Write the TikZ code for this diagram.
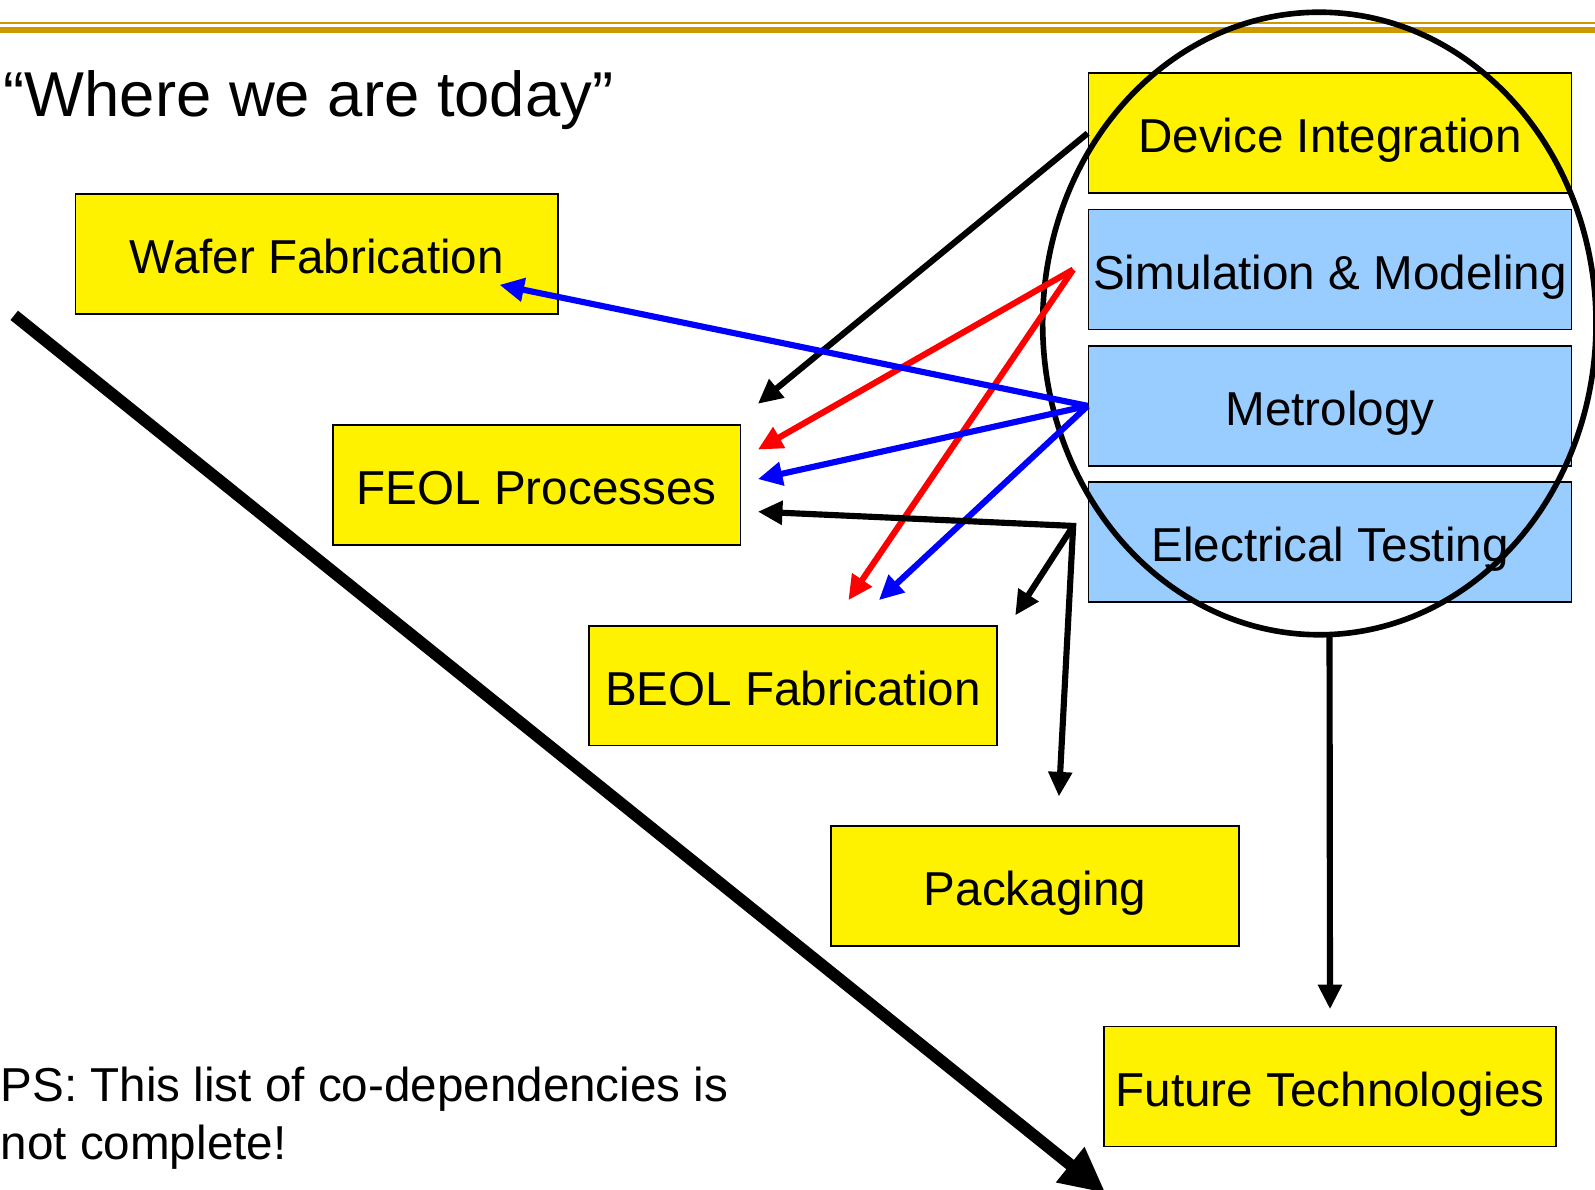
\documentclass[tikz,border=0pt]{standalone}
\usepackage{fontspec}
\setmainfont{Liberation Sans}
\usetikzlibrary{arrows.meta}
\definecolor{gold}{HTML}{CC9900}
\definecolor{lblue}{HTML}{99CCFF}

\begin{document}
\begin{tikzpicture}[x=0.010172cm, y=-0.010172cm,
    box/.style={draw, line width=0.5pt, minimum height=1.2cm, inner sep=0pt,
        text height=11.2pt, text depth=0pt, font=\fontsize{13.55}{16}\selectfont},
    ybox/.style={box, fill=yellow},
    bbox/.style={box, fill=lblue},
    link/.style={line width=1.75pt, -{Triangle[length=7pt, width=6.5pt]}}]
    \useasboundingbox (0,0) rectangle (1568,1169);
    \draw[gold, line width=0.6pt] (0,22.5) -- (1568,22.5);
    \draw[gold, line width=1.8pt] (0,29.5) -- (1568,29.5);
    \node[anchor=base west, inner sep=0pt, font=\fontsize{18.05}{22}\selectfont] (title) at (3,115) {“Where we are today”};

    \node[ybox, minimum width=4.832cm] (wafer) at (311.5,250) {Wafer Fabrication};
    \node[ybox, minimum width=4.079cm] (feol) at (527.5,477) {FEOL Processes};
    \node[ybox, minimum width=4.079cm] (beol) at (779.5,674) {BEOL Fabrication};
    \node[ybox, minimum width=4.079cm] (pack) at (1017.5,871) {Packaging};
    \node[ybox, minimum width=4.527cm] (future) at (1307.5,1068) {Future Technologies};

    \node[ybox, minimum width=4.832cm] (devint) at (1307.5,131) {Device Integration};
    \node[bbox, minimum width=4.832cm] (sim) at (1307.5,265) {Simulation \& Modeling};
    \node[bbox, minimum width=4.832cm] (metro) at (1307.5,399) {Metrology};
    \node[bbox, minimum width=4.832cm] (elec) at (1307.5,533) {Electrical Testing};

    \draw[line width=1.6pt] (1297,318) ellipse [x radius=272, y radius=306];

    \coordinate (simL) at (1055,265);
    \coordinate (junc) at (1055,517);
    \coordinate (ringS) at (1307,623);
    \coordinate (waferA) at (491,280);
    \coordinate (feolA) at (745,397);
    \coordinate (feolB) at (745,442);
    \coordinate (feolC) at (745,471);
    \coordinate (feolD) at (745,503);
    \coordinate (beolA) at (834,590);
    \coordinate (beolB) at (864,590);
    \coordinate (beolC) at (998,605);
    \coordinate (packA) at (1041,783);

    \draw[link] (devint.west) -- (feolA);
    \draw[link, red] (simL) -- (feolB);
    \draw[link, red] (simL) -- (beolA);
    \draw[link, blue] (metro.west) -- (waferA);
    \draw[link, blue] (metro.west) -- (feolC);
    \draw[link, blue] (metro.west) -- (beolB);
    \draw[link, {Triangle[length=7pt, width=6.5pt]}-{Triangle[length=7pt, width=6.5pt]}] (feolD) -- (junc) -- (packA);
    \draw[link] (junc) -- (beolC);
    \draw[link, shorten >=0.163cm] (ringS) -- (future.north);

    \coordinate (bigS) at (14,310);
    \coordinate (bigE) at (1087,1173);
    \draw[line width=3.4pt, -{Triangle[length=13pt, width=12pt]}] (bigS) -- (bigE);

    \node[anchor=base west, align=left, inner sep=0pt, font=\fontsize{13.55}{16.5}\selectfont] (ps) at (0,1140) {PS: This list of co-dependencies is\\not complete!};
\end{tikzpicture}
\end{document}
